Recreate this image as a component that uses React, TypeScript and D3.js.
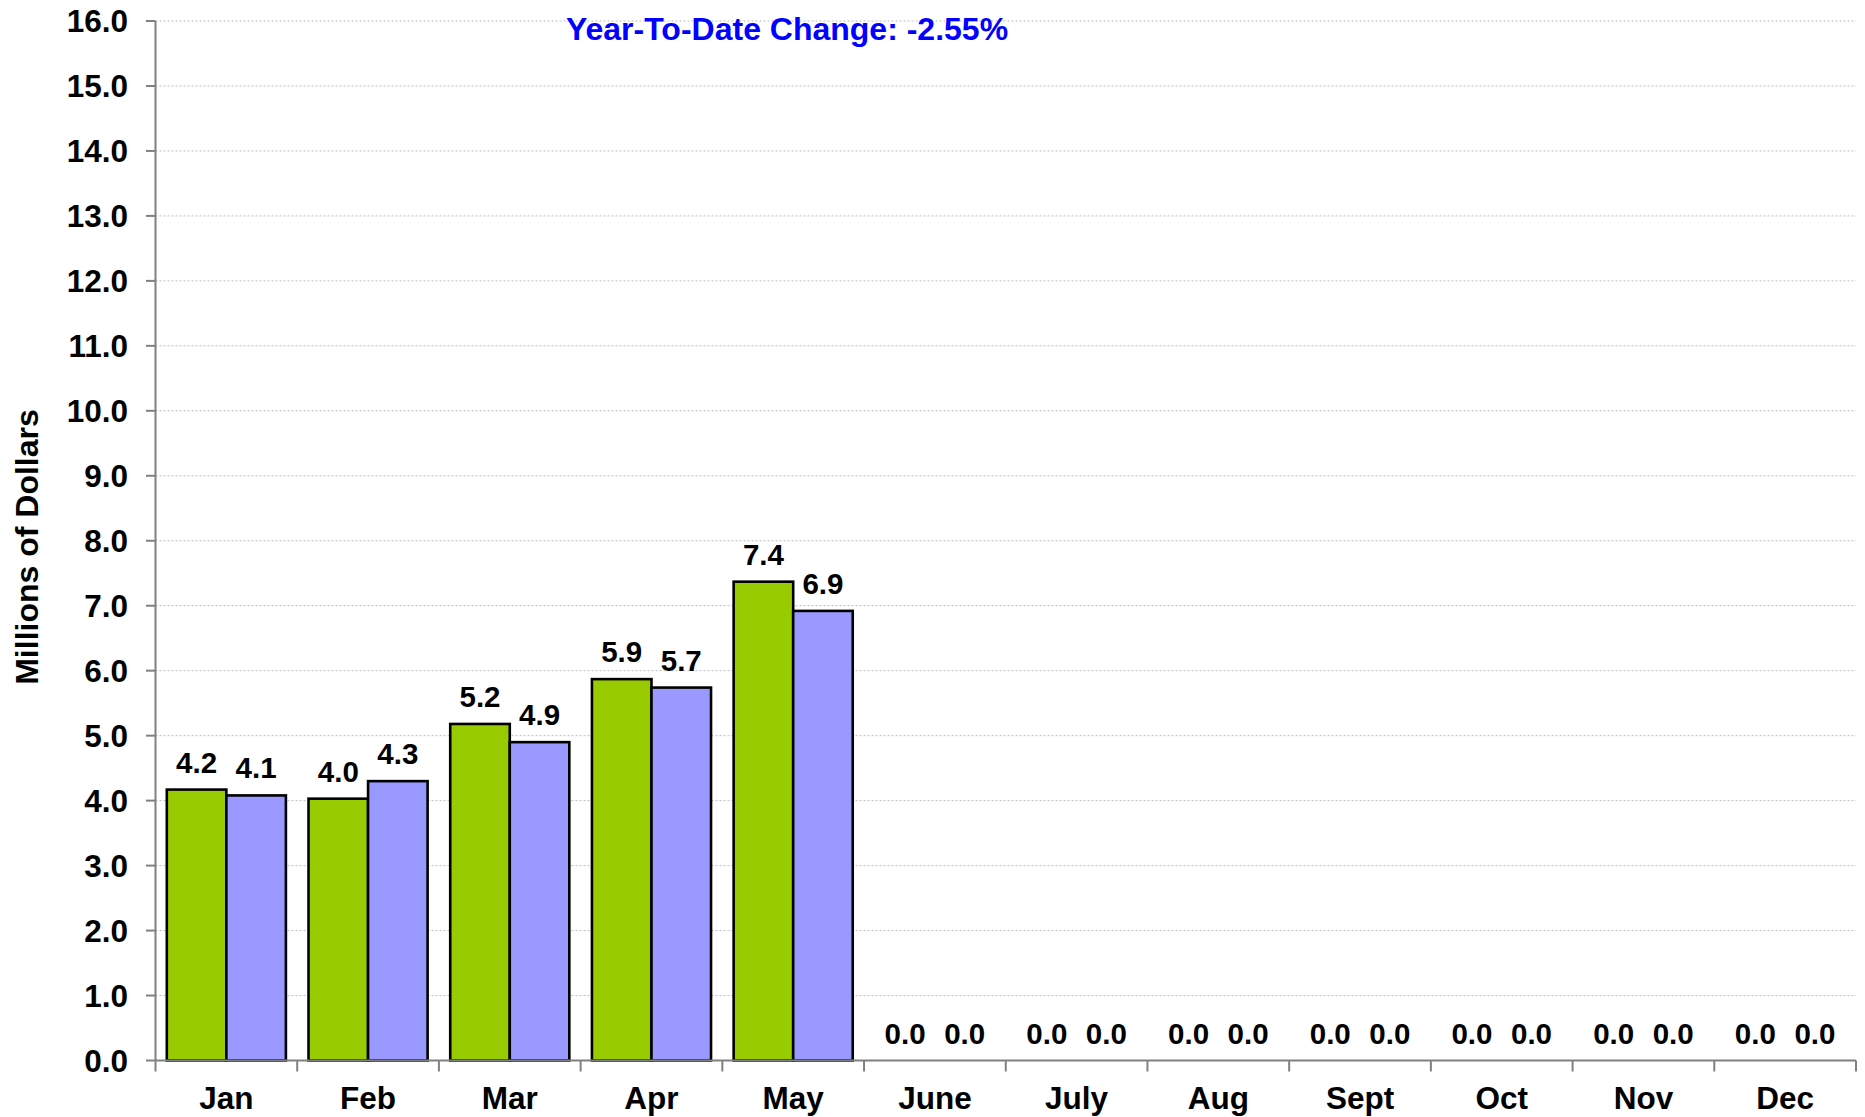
import React from "react";
import * as d3 from "d3";

const months = ["Jan", "Feb", "Mar", "Apr", "May", "June", "July", "Aug", "Sept", "Oct", "Nov", "Dec"];
const seriesKeys = ["prior", "current"];
const priorValues = [4.17, 4.03, 5.18, 5.87, 7.37, 0, 0, 0, 0, 0, 0, 0];
const currentValues = [4.08, 4.3, 4.9, 5.74, 6.92, 0, 0, 0, 0, 0, 0, 0];
const yTicks = d3.range(0, 17, 1);
const titleText = "Year-To-Date Change: -2.55%";
const yAxisTitle = "Millions of Dollars";

const W = 1865;
const H = 1117;
const FONT = "'Liberation Sans', Arial, sans-serif";
const colors: Record<string, string> = { prior: "#99CC00", current: "#9999FF" };

export default function App() {
  const x = d3.scaleBand<string>().domain(months).range([155.5, 1856]).paddingInner(0).paddingOuter(0);
  const xi = d3.scaleBand<string>().domain(seriesKeys).range([0, x.bandwidth()]).paddingInner(0).paddingOuter(0.19);
  const y = d3.scaleLinear().domain([0, 16]).range([1060.5, 21]);
  const fmt = d3.format(".1f");
  const vals: Record<string, number[]> = { prior: priorValues, current: currentValues };
  const boundaries = months.map((m) => x(m)!).concat([x.range()[1]]);

  return (
    <div style={{ position: "fixed", left: 0, top: 0 }}>
      <svg width={W} height={H} style={{ display: "block", background: "#fff" }}>
        {/* gridlines */}
        {yTicks.map((t) => (
          <line key={"g" + t} x1={155.5} x2={1856} y1={y(t)} y2={y(t)} stroke="#bdbdbd" strokeWidth={1} strokeDasharray="2,2" />
        ))}
        {/* bars */}
        {months.map((m, i) =>
          seriesKeys.map((k) => {
            const v = vals[k][i];
            const bx = x(m)! + xi(k)!;
            return v > 0 ? (
              <rect key={m + k} x={bx} y={y(v)} width={xi.bandwidth()} height={y(0) - y(v)} fill={colors[k]} stroke="#000" strokeWidth={2.6} />
            ) : null;
          })
        )}
        {/* axes */}
        <line x1={155.5} x2={155.5} y1={y(16)} y2={y(0)} stroke="#808080" strokeWidth={2} />
        <line x1={155.5} x2={1856} y1={y(0)} y2={y(0)} stroke="#808080" strokeWidth={2} />
        {yTicks.map((t) => (
          <g key={"t" + t}>
            <line x1={146} x2={155.5} y1={y(t)} y2={y(t)} stroke="#808080" strokeWidth={2} />
            <text x={128} y={y(t)} dy="0.36em" textAnchor="end" fontFamily={FONT} fontWeight="bold" fontSize={31.5} fill="#000">
              {fmt(t)}
            </text>
          </g>
        ))}
        {boundaries.map((b, i) => (
          <line key={"xt" + i} x1={b} x2={b} y1={y(0)} y2={y(0) + 11} stroke="#808080" strokeWidth={2} />
        ))}
        {months.map((m) => (
          <text key={"xl" + m} x={x(m)! + x.bandwidth() / 2} y={1109} textAnchor="middle" fontFamily={FONT} fontWeight="bold" fontSize={31.5} fill="#000">
            {m}
          </text>
        ))}
        {/* data labels */}
        {months.map((m, i) =>
          seriesKeys.map((k) => {
            const v = vals[k][i];
            const cx = x(m)! + xi(k)! + xi.bandwidth() / 2;
            return (
              <text key={"dl" + m + k} x={cx} y={y(v) - 17} textAnchor="middle" fontFamily={FONT} fontWeight="bold" fontSize={29.5} fill="#000">
                {fmt(v)}
              </text>
            );
          })
        )}
        {/* title */}
        <text x={787} y={40} textAnchor="middle" fontFamily={FONT} fontWeight="bold" fontSize={32} fill="#0000FF">
          {titleText}
        </text>
        <text transform={`translate(38,547) rotate(-90)`} textAnchor="middle" fontFamily={FONT} fontWeight="bold" fontSize={32} fill="#000">
          {yAxisTitle}
        </text>
      </svg>
    </div>
  );
}
